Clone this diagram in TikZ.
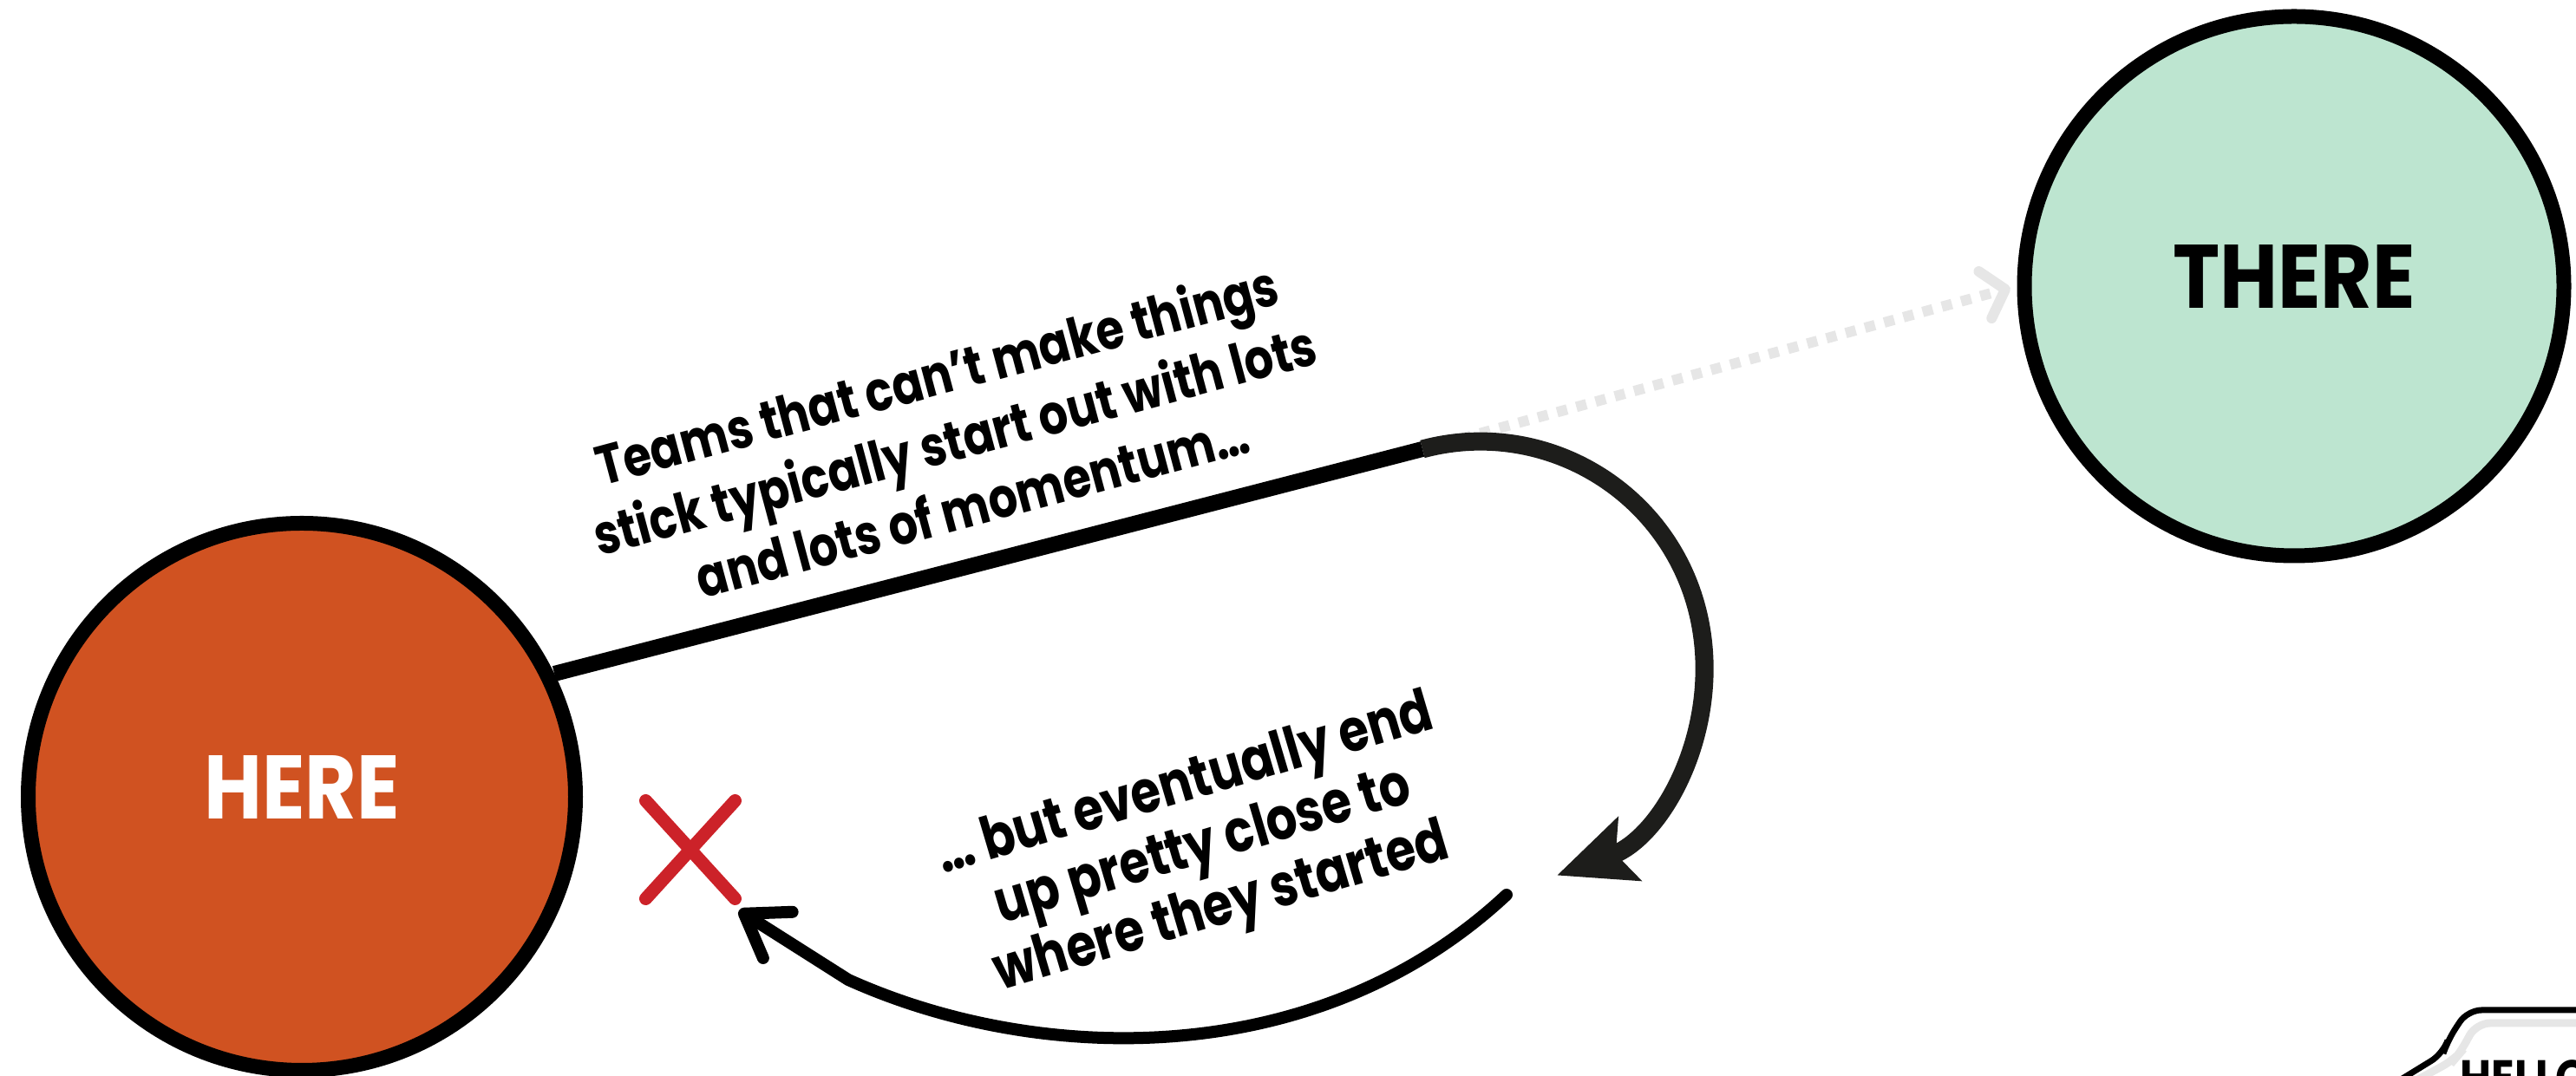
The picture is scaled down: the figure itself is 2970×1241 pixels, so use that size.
\documentclass[tikz,border=0pt]{standalone}
\usepackage{fontspec}
\setmainfont{Poppins}
\newfontfamily\placefont{Poppins}[FakeStretch=0.88]
\newfontfamily\notefont{Poppins}[FakeStretch=0.82]
\usetikzlibrary{
  arrows.meta,
  positioning,
  calc,
  shapes.misc,
}
\definecolor{ink}{HTML}{000000}
\definecolor{loopInk}{HTML}{1D1D1B}
\definecolor{hereFill}{HTML}{D05221}
\definecolor{thereFill}{HTML}{BDE5D0}
\definecolor{ghost}{HTML}{E6E6E6}
\definecolor{missRed}{HTML}{CC2229}
\tikzset{
  every node/.style={
    text=ink,
    align=center,
    inner sep=0pt,
  },
  spot/.style={
    circle,
    draw=ink, line width=4.25pt,
    font=\placefont\fontsize{26}{26}\selectfont\bfseries,
    text depth=5.5pt,
  },
  herespot/.style={
    spot, fill=hereFill, text=white,
    minimum size=157.75pt,
  },
  therespot/.style={
    spot, fill=thereFill,
    minimum size=155.5pt,
  },
  note/.style={
    font=\notefont\fontsize{17}{18.5}\selectfont\bfseries,
  },
  bignote/.style={
    font=\notefont\fontsize{16}{19.5}\selectfont\bfseries,
  },
  hello/.style={
    font=\placefont\fontsize{14}{14}\selectfont\bfseries,
  },
  miss/.style={
    cross out, draw=missRed, line width=3.75pt, line cap=round,
    minimum width=22pt, minimum height=24.5pt,
  },
  push/.style={
    draw=ink, line width=4.5pt,
  },
  loopback/.style={
    -{Stealth[length=22pt, width=19pt, inset=4pt]},
    draw=loopInk, line width=5.25pt,
  },
  sink/.style={
    -{Straight Barb[length=11.5pt, width=15.75pt, round]},
    draw=ink, line width=3.5pt, line cap=round,
  },
  ideal/.style={
    -{Straight Barb[length=6pt, width=14pt, round]},
    draw=ghost, line width=3pt, dash pattern=on 3pt off 2.75pt,
    shorten >=2pt,
  },
  bubble/.style={
    draw=ink, line width=1.75pt, rounded corners=4pt,
  },
  bubbleshade/.style={
    draw=ghost, line width=2.25pt, rounded corners=4pt,
  },
}

\begin{document}
\begin{tikzpicture}[x=0.25pt, y=0.25pt]

% ============================================
% Coordinate system: px of a 2970 x 1241 canvas, y up
% HERE   centre (348, 322)
% THERE  centre (2645, 911)
% ============================================
\path[use as bounding box] (0,0) rectangle (2970,1241);
\clip (0,0) rectangle (2970,1241);

% ----- the two places -----
\node[herespot]  (here)  at ( 348, 322) {HERE};
\node[therespot] (there) at (2645, 911) {THERE};

% ----- turning points -----
\coordinate (peak) at (1640, 723);
\coordinate (fade) at (1737, 209);
\coordinate (kink) at ( 978, 111);
\coordinate (back) at ( 852, 191);

% ----- the missed start -----
\node[miss] (miss) at (796, 261) {};

% ============================================
% Paths
% ============================================
% intended route, faded, runs on past the peak
\draw[ideal] (peak) -- (there.west);

% momentum up to the peak
\draw[push] (here.26) -- (peak);

% the loop round and down
\draw[loopback] (peak) arc[start angle=105, end angle=-70, radius=258];

% drifting back towards the start
\draw[sink] (fade) .. controls (1520, 6) and (1200, 11) .. (kink) -- (back);

% ============================================
% Labels
% ============================================
\node[bignote, rotate=15] (momentum) at (1100, 735)
  {Teams that can’t make things\\stick typically start out with lots\\and lots of momentum…};
\node[note, rotate=16.5] (drift) at (1388, 262)
  {… but eventually end\\up pretty close to\\where they started};

% ----- speech bubble, cut by the edge -----
\draw[bubbleshade] (3000, 61) -- (2855, 61) -- (2836, 26) -- (2830, 19) -- (2775,-11);
\draw[bubble]      (3000, 76) -- (2845, 76) -- (2822, 41) -- (2817, 26) -- (2760, -9);
\node[hello, anchor=north west] (greet) at (2836, 19) {HELLO};

\end{tikzpicture}
\end{document}
